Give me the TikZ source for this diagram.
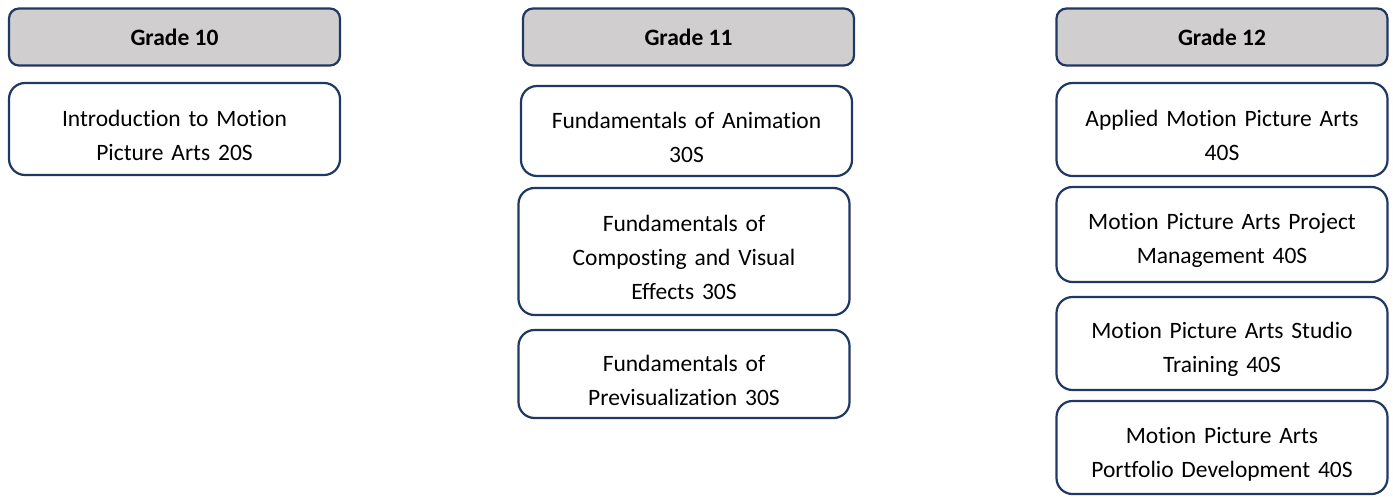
\documentclass[tikz,border=0pt]{standalone}
\usepackage{fontspec}
\setmainfont[Ligatures=CommonOff]{Carlito}
\definecolor{boxline}{HTML}{1F3864}
\definecolor{headfill}{HTML}{D0CECE}
\tikzset{
  gradehead/.style={draw=boxline,line width=2.2pt,fill=headfill,rounded corners=10pt,
    minimum width=331pt,minimum height=57pt,text depth=0pt,font=\fontsize{23.5}{27}\selectfont\bfseries},
  course/.style={draw=boxline,line width=2.2pt,fill=white,rounded corners=16pt,
    minimum width=331pt,text width=320pt,align=center,
    execute at begin node={\rule{0pt}{29pt}},
    font=\fontsize{23.5}{34}\selectfont}
}
\begin{document}
\begin{tikzpicture}[x=1pt,y=-1pt]
\useasboundingbox (0,0) rectangle (1393,496);

\node[gradehead] (g10) at (174.5,37) {Grade 10};
\node[gradehead] (g11) at (688.5,37) {Grade 11};
\node[gradehead] (g12) at (1222,37) {Grade 12};

\node[course,minimum height=92pt] (intro) at (174.5,129) {Introduction to Motion\\Picture Arts 20S};

\node[course,minimum height=90pt] (anim) at (686.5,131) {Fundamentals of Animation\\30S};
\node[course,minimum height=127pt] (comp) at (684,251.5) {Fundamentals of\\Composting and Visual\\Effects 30S};
\node[course,minimum height=88pt] (previs) at (684,374) {Fundamentals of\\Previsualization 30S};

\node[course,minimum height=93pt] (applied) at (1222,129.5) {Applied Motion Picture Arts\\40S};
\node[course,minimum height=95pt] (mgmt) at (1222,234.5) {Motion Picture Arts Project\\Management 40S};
\node[course,minimum height=93pt] (studio) at (1222,343.5) {Motion Picture Arts Studio\\Training 40S};
\node[course,minimum height=93pt] (folio) at (1222,447.5) {Motion Picture Arts\\Portfolio Development 40S};
\end{tikzpicture}
\end{document}
